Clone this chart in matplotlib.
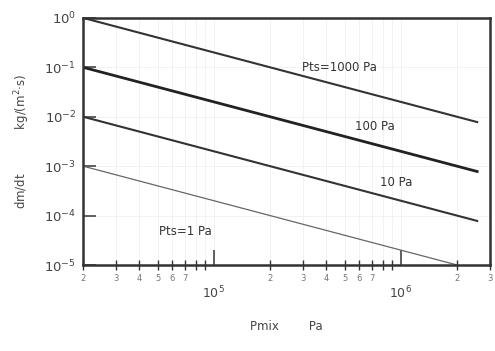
import matplotlib
matplotlib.use('Agg')
import matplotlib.pyplot as plt
from matplotlib.ticker import FixedLocator, FixedFormatter, NullFormatter

# line endpoints (Pmix in Pa, dm/dt in kg/(m^2 s))
pmix_1000 = [2e4, 2.56e6]
dmdt_1000 = [1.0, 7.8e-3]
pmix_100 = [2e4, 2.56e6]
dmdt_100 = [1.0e-1, 7.8e-4]
pmix_10 = [2e4, 2.56e6]
dmdt_10 = [1.0e-2, 7.8e-5]
pmix_1 = [2e4, 2.0e6]
dmdt_1 = [1.0e-3, 1.0e-5]

minor_x = [2e4, 3e4, 4e4, 5e4, 6e4, 7e4, 8e4, 9e4,
           2e5, 3e5, 4e5, 5e5, 6e5, 7e5, 8e5, 9e5,
           2e6, 3e6]
minor_lbl = ['2', '3', '4', '5', '6', '7', '', '',
             '2', '3', '4', '5', '6', '7', '', '',
             '2', '3']
major_x = [1e5, 1e6]
major_lbl = ['$10^5$', '$10^6$']
y_ticks = [1e0, 1e-1, 1e-2, 1e-3, 1e-4, 1e-5]
y_lbl = ['$10^0$', '$10^{-1}$', '$10^{-2}$', '$10^{-3}$', '$10^{-4}$', '$10^{-5}$']

fig = plt.figure(figsize=(4.95, 3.51), dpi=100)
ax = fig.add_axes([0.168, 0.245, 0.822, 0.704])
ax.set_xscale('log')
ax.set_yscale('log')

ax.grid(True, which='both', color='#f0f0f0', linewidth=0.6)
ax.set_axisbelow(True)

ax.plot(pmix_1000, dmdt_1000, color='#333333', linewidth=1.5)
ax.plot(pmix_100, dmdt_100, color='#222222', linewidth=2.0)
ax.plot(pmix_10, dmdt_10, color='#333333', linewidth=1.5)
ax.plot(pmix_1, dmdt_1, color='#666666', linewidth=0.9)

ax.set_xlim(2e4, 3e6)
ax.set_ylim(1e-5, 1e0)

ax.xaxis.set_major_locator(FixedLocator(major_x))
ax.xaxis.set_major_formatter(FixedFormatter(major_lbl))
ax.xaxis.set_minor_locator(FixedLocator(minor_x))
ax.xaxis.set_minor_formatter(FixedFormatter(minor_lbl))
ax.yaxis.set_major_locator(FixedLocator(y_ticks))
ax.yaxis.set_major_formatter(FixedFormatter(y_lbl))
ax.yaxis.set_minor_formatter(NullFormatter())
ax.yaxis.set_minor_locator(FixedLocator([]))

ax.tick_params(axis='x', which='major', direction='in', length=11, width=1.2,
               pad=14, labelsize=9, colors='#444444')
ax.tick_params(axis='x', which='minor', direction='inout', length=7, width=1.0,
               pad=3, labelsize=6, labelcolor='#777777', color='#333333')
ax.tick_params(axis='y', which='major', direction='in', length=9, width=1.2,
               pad=5, labelsize=9.5, colors='#444444')

for sp in ax.spines.values():
    sp.set_linewidth(1.8)
    sp.set_color('#333333')

txt = dict(fontsize=8.5, color='#333333', ha='center', va='center')
ax.text(4.7e5, 0.098, 'Pts=1000 Pa', **txt)
ax.text(7.3e5, 6.3e-3, '100 Pa', **txt)
ax.text(9.5e5, 4.6e-4, '10 Pa', **txt)
ax.text(7.0e4, 4.7e-5, 'Pts=1 Pa', **txt)

ax.set_xlabel('Pmix        Pa', fontsize=8.5, color='#444444', labelpad=14)
ax.set_ylabel('dm/dt            kg/(m$^2$·s)', fontsize=8.5, color='#444444',
              labelpad=9)

fig.savefig('out.png', dpi=100)
